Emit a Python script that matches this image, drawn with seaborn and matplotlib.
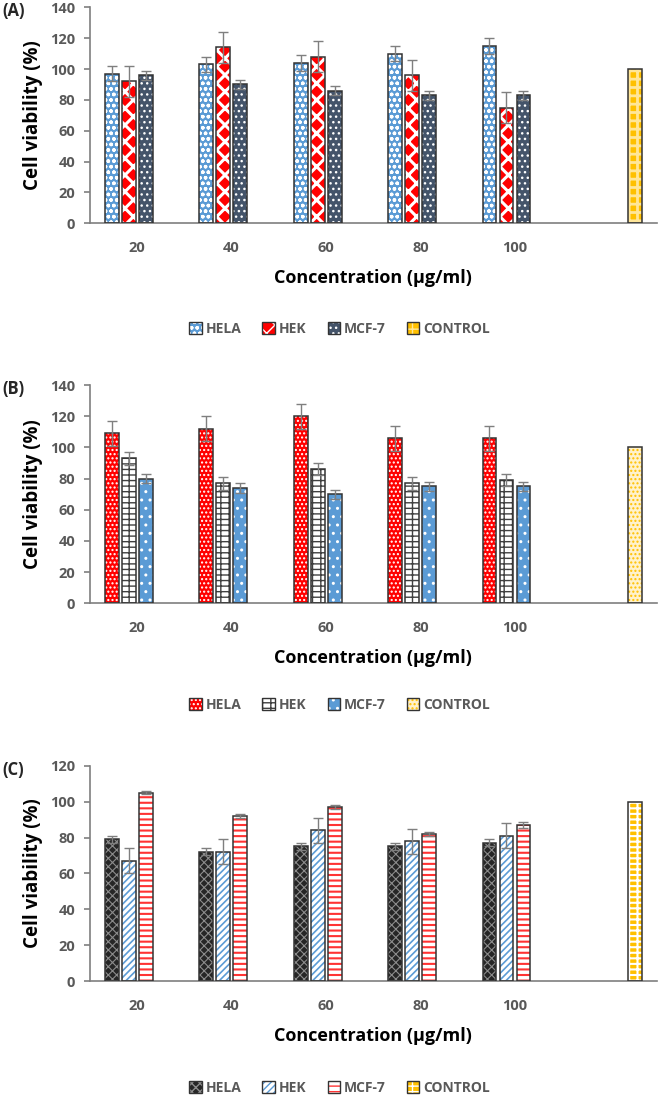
import matplotlib
matplotlib.use("Agg")
import pandas as pd
import matplotlib.pyplot as plt
import seaborn as sns
from matplotlib.patches import Rectangle, Patch
from matplotlib.legend_handler import HandlerTuple

# ---- data ----
conc = ["20", "40", "60", "80", "100"]
cats = conc + [""]
series = ["HELA", "HEK", "MCF-7", "CONTROL"]
control_value = 100

a_hela = [97, 103, 104, 110, 115]
a_hela_err = [5, 5, 5, 5, 5]
a_hek = [92, 114, 108, 96, 75]
a_hek_err = [10, 10, 10, 10, 10]
a_mcf = [96, 90, 86, 83, 83]
a_mcf_err = [3, 3, 3, 3, 3]

b_hela = [109, 112, 120, 106, 106]
b_hela_err = [8, 8, 8, 8, 8]
b_hek = [93, 77, 86, 77, 79]
b_hek_err = [4, 4, 4, 4, 4]
b_mcf = [80, 74, 70, 75, 75]
b_mcf_err = [3, 3, 3, 3, 3]

c_hela = [79, 72, 75, 75, 77]
c_hela_err = [2, 2, 2, 2, 2]
c_hek = [67, 72, 84, 78, 81]
c_hek_err = [7, 7, 7, 7, 7]
c_mcf = [105, 92, 97, 82, 87]
c_mcf_err = [1, 1, 1, 1, 1.5]

# (facecolor, hatch colour, hatch, hatch linewidth)
styles_a = {"HELA": ("#5b9bd5", "white", "ooo", 1.0),
            "HEK": ("#ff0000", "white", "xx", 2.2),
            "MCF-7": ("#44546a", "white", "...", 1.0),
            "CONTROL": ("#ffc000", "#ffe699", "++", 2.0)}
styles_b = {"HELA": ("#ff0000", "white", "....", 1.0),
            "HEK": ("white", "#404040", "---||", 1.0),
            "MCF-7": ("#5b9bd5", "white", "..", 1.0),
            "CONTROL": ("#fff2cc", "#ffc000", "....", 1.0)}
styles_c = {"HELA": ("#262626", "#8c8c8c", "xxxx", 0.8),
            "HEK": ("white", "#5b9bd5", "/////", 1.2),
            "MCF-7": ("white", "#ff3333", "---", 1.5),
            "CONTROL": ("#ffc000", "white", "---||", 1.5)}

sns.set_theme(style="white")
plt.rcParams["font.family"] = ["Open Sans", "DejaVu Sans"]
plt.rcParams["font.weight"] = "bold"
plt.rcParams["axes.labelweight"] = "bold"
plt.rcParams["hatch.linewidth"] = 1.0


def build(hela, hela_err, hek, hek_err, mcf, mcf_err):
    rows = []
    for name, vals, errs in [("HELA", hela, hela_err), ("HEK", hek, hek_err), ("MCF-7", mcf, mcf_err)]:
        for c, v, e in zip(conc, vals, errs):
            rows.append({"conc": c, "value": v, "err": e, "series": name})
    rows.append({"conc": "", "value": control_value, "err": 0, "series": "CONTROL"})
    return pd.DataFrame(rows)


def hatch_patch(p, fc, hc, hatch, hlw):
    p.set_facecolor(fc)
    p.set_edgecolor(hc)
    p.set_hatch(hatch)
    p.set_linewidth(0)
    if hasattr(p, "set_hatch_linewidth"):
        p.set_hatch_linewidth(hlw)


def draw_panel(ax, df, styles, ymax, label, legend_y):
    sns.barplot(data=df, x="conc", y="value", hue="series", order=cats, hue_order=series,
                width=0.72, gap=0.18, errorbar=None, legend=False, ax=ax)
    for cont, s in zip(ax.containers, series):
        sub = df[df["series"] == s]
        for bar, err in zip(cont, sub["err"]):
            hatch_patch(bar, *styles[s])
            ax.add_patch(Rectangle(bar.get_xy(), bar.get_width(), bar.get_height(),
                                   fill=False, edgecolor="#333333", lw=1.1, zorder=3))
            if err > 0:
                ax.errorbar(bar.get_x() + bar.get_width() / 2, bar.get_height(), yerr=err,
                            color="#7f7f7f", capsize=3.5, lw=1, capthick=1, zorder=4)
    ax.set_ylim(0, ymax)
    ax.set_yticks(range(0, ymax + 1, 20))
    ax.set_xlim(-0.5, 5.5)
    sns.despine(ax=ax)
    for sp in ["left", "bottom"]:
        ax.spines[sp].set_color("#7f7f7f")
        ax.spines[sp].set_linewidth(1.2)
    ax.tick_params(axis="y", left=True, length=4.5, width=1.2, color="#7f7f7f",
                   labelsize=10.5, labelcolor="#595959", pad=6)
    ax.tick_params(axis="x", bottom=False, length=0, labelsize=10.5, labelcolor="#595959", pad=13)
    for t in ax.get_xticklabels() + ax.get_yticklabels():
        t.set_fontweight("bold")
    ax.set_ylabel("Cell viability (%)", fontsize=13.5, color="black", labelpad=5)
    ax.set_xlabel("Concentration (μg/ml)", fontsize=13, color="black", labelpad=10)
    pos = ax.get_position()
    fig.text(0.003, pos.y1 - 4 / 1096, label, fontsize=12, fontweight="bold", va="center")

    handles = []
    for s in series:
        lp = Patch()
        hatch_patch(lp, *styles[s])
        handles.append((lp, Patch(fill=False, edgecolor="#333333", lw=1)))
    fig.legend(handles, series, loc="center", bbox_to_anchor=(0.51, legend_y), ncol=4,
               frameon=False, fontsize=10, labelcolor="#595959", handlelength=0.9,
               handleheight=0.9, handletextpad=0.3, columnspacing=1.5,
               handler_map={tuple: HandlerTuple(ndivide=1, pad=0)})


fig = plt.figure(figsize=(6.66, 10.96), dpi=100)
ax_a = fig.add_axes([0.135, 0.7963, 0.851, 0.1970])
ax_b = fig.add_axes([0.135, 0.4495, 0.851, 0.1992])
ax_c = fig.add_axes([0.135, 0.1049, 0.851, 0.1964])

draw_panel(ax_a, build(a_hela, a_hela_err, a_hek, a_hek_err, a_mcf, a_mcf_err), styles_a, 140, "(A)", 1 - 329 / 1096)
draw_panel(ax_b, build(b_hela, b_hela_err, b_hek, b_hek_err, b_mcf, b_mcf_err), styles_b, 140, "(B)", 1 - 705 / 1096)
draw_panel(ax_c, build(c_hela, c_hela_err, c_hek, c_hek_err, c_mcf, c_mcf_err), styles_c, 120, "(C)", 1 - 1088 / 1096)

fig.savefig("out.png", dpi=100)
